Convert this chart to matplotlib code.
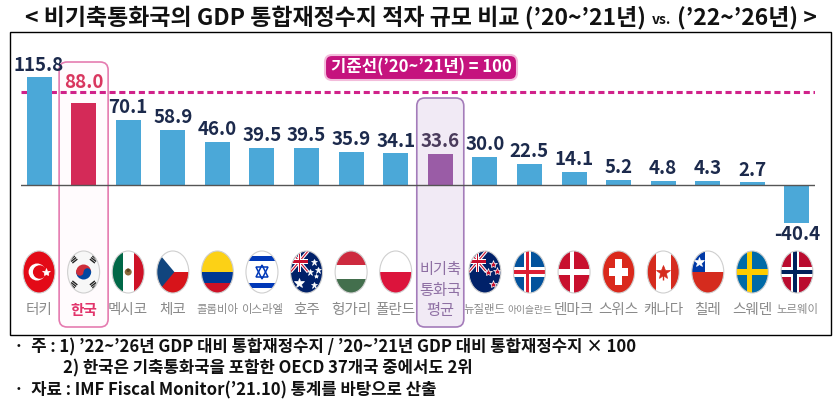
import matplotlib
matplotlib.use("Agg")
import matplotlib.pyplot as plt
from matplotlib.patches import Rectangle, Ellipse, Polygon, FancyBboxPatch, Wedge

plt.rcParams["font.family"] = ["Noto Sans CJK KR", "DejaVu Sans"]

# data
COUNTRIES = ["터키", "한국", "멕시코", "체코", "콜롬비아", "이스라엘", "호주", "헝가리", "폴란드",
             "비기축\n통화국\n평균", "뉴질랜드", "아이슬란드", "덴마크", "스위스", "캐나다",
             "칠레", "스웨덴", "노르웨이"]
VALUES = [115.8, 88.0, 70.1, 58.9, 46.0, 39.5, 39.5, 35.9, 34.1, 33.6,
          30.0, 22.5, 14.1, 5.2, 4.8, 4.3, 2.7, -40.4]
FLAGS = ["tr", "kr", "mx", "cz", "co", "il", "au", "hu", "pl", "avg",
         "nz", "is", "dk", "ch", "ca", "cl", "se", "no"]
KOREA = 1
AVERAGE = 9
REF_VALUE = 100
REF_LABEL = "기준선(’20~’21년) = 100"

TITLE = ["< 비기축통화국의 GDP 통합재정수지 적자 규모 비교 (’20~’21년)", "vs.", "(’22~’26년) >"]
NOTES = ["·  주 : 1) ’22~’26년 GDP 대비 통합재정수지 / ’20~’21년 GDP 대비 통합재정수지 × 100",
         "2) 한국은 기축통화국을 포함한 OECD 37개국 중에서도 2위",
         "·  자료 : IMF Fiscal Monitor(’21.10) 통계를 바탕으로 산출"]

BLUE = "#4BA8D8"
RED = "#D42A58"
PURPLE = "#9A5CA6"
NAVY = "#1C2A4C"
PINK = "#D0228A"

W, H = 837, 409
fig = plt.figure(figsize=(W / 100, H / 100), dpi=100)

# background layer in pixel coordinates (y grows downward)
bg = fig.add_axes([0, 0, 1, 1], zorder=0)
bg.set_xlim(0, W)
bg.set_ylim(H, 0)
bg.axis("off")

# bar layer: baseline at y=185 px, ~0.93 px per unit
base_px, per_unit = 185, 0.93
y_lo, y_hi = -50, 130
top_px = base_px - y_hi * per_unit
bot_px = base_px - y_lo * per_unit
px_left, px_right = 21.2, 814.8
ax = fig.add_axes([px_left / W, 1 - bot_px / H, (px_right - px_left) / W, (bot_px - top_px) / H],
                  zorder=1)
ax.set_facecolor("none")
ax.set_xlim(-0.4, len(VALUES) - 0.6)
ax.set_ylim(y_lo, y_hi)
ax.axis("off")

x = list(range(len(VALUES)))
colors = [BLUE] * len(VALUES)
colors[KOREA] = RED
colors[AVERAGE] = PURPLE
ax.bar(x, VALUES, width=0.56, color=colors, zorder=2)
ax.axhline(0, color="#555555", lw=1.0, zorder=3)
ax.axhline(REF_VALUE, color=PINK, lw=2.2, ls=(0, (2.0, 1.2)), zorder=1)

for i, v in enumerate(VALUES):
    c, off = NAVY, 2
    if i == KOREA:
        # the reference keeps Korea's label clear of the dashed line
        c, off = "#D9365F", 8
    elif i == AVERAGE:
        c = "#4A3B5C"
    ax.annotate(f"{v:.1f}", (i, v), xytext=(0, off if v >= 0 else -1.5),
                textcoords="offset points", ha="center",
                va="bottom" if v >= 0 else "top",
                fontsize=13.5, fontweight="bold", color=c)


def px(i):
    return ax.transData.transform((i, 0))[0]


# frame and highlight boxes
bg.add_patch(Rectangle((10, 32), 821, 303, fill=False, ec="black", lw=1.0, zorder=1))
bg.add_patch(FancyBboxPatch((px(KOREA) - 24.5, 62), 49, 265,
                            boxstyle="round,pad=0,rounding_size=8",
                            fc="#FFFBFD", ec="#E57BB0", lw=1.2, zorder=2))
bg.add_patch(FancyBboxPatch((px(AVERAGE) - 23.5, 98), 47, 229,
                            boxstyle="round,pad=0,rounding_size=8",
                            fc="#F1EAF5", ec="#A47CBA", lw=1.2, zorder=2))
bg.add_patch(FancyBboxPatch((325, 55), 192, 25, boxstyle="round,pad=0,rounding_size=7",
                            fc="#C5137E", ec="#F3BCDB", lw=1.5, zorder=2))
bg.text(421, 67.5, REF_LABEL, color="white", fontsize=12, fontweight="bold",
        ha="center", va="center", zorder=3)

# flags
_z = [3.0]


def draw_flag(code, cx, cy, w=32, h=42):
    x0, y0 = cx - w / 2, cy - h / 2
    clip = Ellipse((cx, cy), w, h, fc="white", ec="none", zorder=3)
    bg.add_patch(clip)

    def nz():
        _z[0] += 0.001
        return _z[0]

    def P(fx, fy):
        return (x0 + fx * w, y0 + fy * h)

    def rect(fx0, fy0, fx1, fy1, c):
        r = Rectangle(P(fx0, fy0), (fx1 - fx0) * w, (fy1 - fy0) * h, fc=c, ec="none", zorder=nz())
        bg.add_patch(r)
        r.set_clip_path(clip)

    def poly(pts, c):
        p = Polygon([P(*q) for q in pts], closed=True, fc=c, ec="none", zorder=nz())
        bg.add_patch(p)
        p.set_clip_path(clip)

    def dot(fx, fy, d, c):
        e = Ellipse(P(fx, fy), d, d, fc=c, ec="none", zorder=nz())
        bg.add_patch(e)
        e.set_clip_path(clip)

    def star(fx, fy, s, c, ec=None):
        bg.plot(*P(fx, fy), marker="*", ms=s, color=c, mec=ec or c, mew=0.5, zorder=nz())

    def line(pts, c, lw):
        ln, = bg.plot(*zip(*[P(*q) for q in pts]), color=c, lw=lw,
                      solid_capstyle="butt", zorder=nz())
        ln.set_clip_path(clip)

    def union_jack():
        rect(0, 0, 0.55, 0.5, "#012169")
        line([(0, 0), (0.55, 0.5)], "white", 2.4)
        line([(0.55, 0), (0, 0.5)], "white", 2.4)
        line([(0, 0), (0.55, 0.5)], "#C8102E", 0.8)
        line([(0.55, 0), (0, 0.5)], "#C8102E", 0.8)
        rect(0.22, 0, 0.33, 0.5, "white")
        rect(0, 0.2, 0.55, 0.3, "white")
        rect(0.25, 0, 0.30, 0.5, "#C8102E")
        rect(0, 0.225, 0.55, 0.275, "#C8102E")

    if code == "tr":
        rect(0, 0, 1, 1, "#E30A17")
        dot(0.44, 0.5, 17, "white")
        dot(0.52, 0.5, 13.5, "#E30A17")
        star(0.72, 0.5, 6, "white")
    elif code == "kr":
        rect(0, 0, 1, 1, "#F7F7F7")
        r = 7.5
        for t1, t2, c in ((180, 360, "#CD2E3A"), (0, 180, "#0047A0")):
            wdg = Wedge((cx, cy), r, t1, t2, fc=c, ec="none", zorder=nz())
            bg.add_patch(wdg)
        dot(0.5 - r / 2 / w, 0.5, r, "#CD2E3A")
        dot(0.5 + r / 2 / w, 0.5, r, "#0047A0")
        for sx, sy in ((-1, -1), (1, -1), (-1, 1), (1, 1)):
            vx, vy = sx * 10.0, sy * 12.5
            n = (vx ** 2 + vy ** 2) ** 0.5
            dx, dy = vx / n, vy / n
            for k in (-1, 0, 1):
                mx, my = cx + vx + dx * k * 2.0, cy + vy + dy * k * 2.0
                ln, = bg.plot([mx + dy * 3.2, mx - dy * 3.2], [my - dx * 3.2, my + dx * 3.2],
                              color="#222222", lw=1.0, solid_capstyle="butt", zorder=nz())
                ln.set_clip_path(clip)
    elif code == "mx":
        rect(0, 0, 1 / 3, 1, "#006847")
        rect(1 / 3, 0, 2 / 3, 1, "white")
        rect(2 / 3, 0, 1, 1, "#CE1126")
        dot(0.5, 0.5, 7, "#8B6A3B")
        dot(0.5, 0.46, 3.5, "#5C4320")
    elif code == "cz":
        rect(0, 0, 1, 0.5, "white")
        rect(0, 0.5, 1, 1, "#D7141A")
        poly([(0, 0), (0.55, 0.5), (0, 1)], "#11457E")
    elif code == "co":
        rect(0, 0, 1, 0.5, "#FCD116")
        rect(0, 0.5, 1, 0.75, "#003893")
        rect(0, 0.75, 1, 1, "#CE1126")
    elif code == "il":
        rect(0, 0, 1, 1, "white")
        rect(0, 0.13, 1, 0.23, "#0038B8")
        rect(0, 0.77, 1, 0.87, "#0038B8")
        for m, dy in (("^", -0.02), ("v", 0.02)):
            bg.plot(*P(0.5, 0.5 + dy), marker=m, ms=8, mfc="none", mec="#0038B8",
                    mew=1.1, zorder=nz())
    elif code == "au":
        rect(0, 0, 1, 1, "#012169")
        union_jack()
        star(0.27, 0.76, 7, "white")
        for fx, fy, s in ((0.74, 0.27, 5), (0.6, 0.5, 5), (0.87, 0.46, 5), (0.74, 0.8, 5),
                          (0.8, 0.6, 3)):
            star(fx, fy, s, "white")
    elif code == "hu":
        rect(0, 0, 1, 1 / 3, "#CD2A3E")
        rect(0, 1 / 3, 1, 2 / 3, "white")
        rect(0, 2 / 3, 1, 1, "#436F4D")
    elif code == "pl":
        rect(0, 0, 1, 0.5, "white")
        rect(0, 0.5, 1, 1, "#DC143C")
    elif code == "nz":
        rect(0, 0, 1, 1, "#012169")
        union_jack()
        for fx, fy in ((0.74, 0.3), (0.6, 0.5), (0.87, 0.47), (0.74, 0.78)):
            star(fx, fy, 6, "#C8102E", "white")
    elif code == "is":
        rect(0, 0, 1, 1, "#02529C")
        rect(0.32, 0, 0.56, 1, "white")
        rect(0, 0.39, 1, 0.61, "white")
        rect(0.38, 0, 0.50, 1, "#DC1E35")
        rect(0, 0.45, 1, 0.55, "#DC1E35")
    elif code == "dk":
        rect(0, 0, 1, 1, "#C8102E")
        rect(0.36, 0, 0.50, 1, "white")
        rect(0, 0.44, 1, 0.56, "white")
    elif code == "ch":
        rect(0, 0, 1, 1, "#DA291C")
        rect(0.39, 0.2, 0.61, 0.8, "white")
        rect(0.2, 0.41, 0.8, 0.59, "white")
    elif code == "ca":
        rect(0, 0, 1, 1, "white")
        rect(0, 0, 0.26, 1, "#D52B1E")
        rect(0.74, 0, 1, 1, "#D52B1E")
        star(0.5, 0.5, 10, "#D52B1E")
        line([(0.5, 0.55), (0.5, 0.68)], "#D52B1E", 1.0)
    elif code == "cl":
        rect(0, 0, 1, 0.5, "white")
        rect(0, 0, 0.42, 0.5, "#0039A6")
        rect(0, 0.5, 1, 1, "#D52B1E")
        star(0.24, 0.27, 7, "white")
    elif code == "se":
        rect(0, 0, 1, 1, "#006AA7")
        rect(0.34, 0, 0.48, 1, "#FECC00")
        rect(0, 0.43, 1, 0.57, "#FECC00")
    elif code == "no":
        rect(0, 0, 1, 1, "#BA0C2F")
        rect(0.32, 0, 0.56, 1, "white")
        rect(0, 0.39, 1, 0.61, "white")
        rect(0.38, 0, 0.50, 1, "#00205B")
        rect(0, 0.45, 1, 0.55, "#00205B")
    bg.add_patch(Ellipse((cx, cy), w, h, fc="none", ec="#CFCFCF", lw=0.8, zorder=nz()))


for i, (name, code) in enumerate(zip(COUNTRIES, FLAGS)):
    cx = px(i)
    if code == "avg":
        bg.text(cx, 290, name, ha="center", va="center", fontsize=11, color="#8E6FA3",
                linespacing=1.3, zorder=4)
        continue
    draw_flag(code, cx, 272)
    n = len(name)
    size = 10.5 if n <= 3 else (8.2 if n == 4 else 7.0)
    color, weight = "#8A8A8A", "normal"
    if i == KOREA:
        color, weight = "#E2336B", "bold"
    bg.text(cx, 310, name, ha="center", va="center", fontsize=size, color=color,
            fontweight=weight, zorder=4)

# title made of three pieces, "vs." in a smaller size
renderer = fig.canvas.get_renderer()
pieces = []
for s, size in zip(TITLE, (16.5, 10, 16.5)):
    t = bg.text(0, 24, s, fontsize=size, fontweight="bold", va="baseline", ha="left",
                color="#111111")
    pieces.append((t, t.get_window_extent(renderer).width))
gap = 6
total = sum(wd for _, wd in pieces) + gap * (len(pieces) - 1)
xpos = 421 - total / 2
for t, wd in pieces:
    t.set_x(xpos)
    xpos += wd + gap

# notes
for (nx, ny), s in zip(((14, 347), (63, 368), (14, 390)), NOTES):
    bg.text(nx, ny, s, fontsize=12, fontweight="bold", va="center", color="#111111")

fig.savefig("out.png", dpi=100)
